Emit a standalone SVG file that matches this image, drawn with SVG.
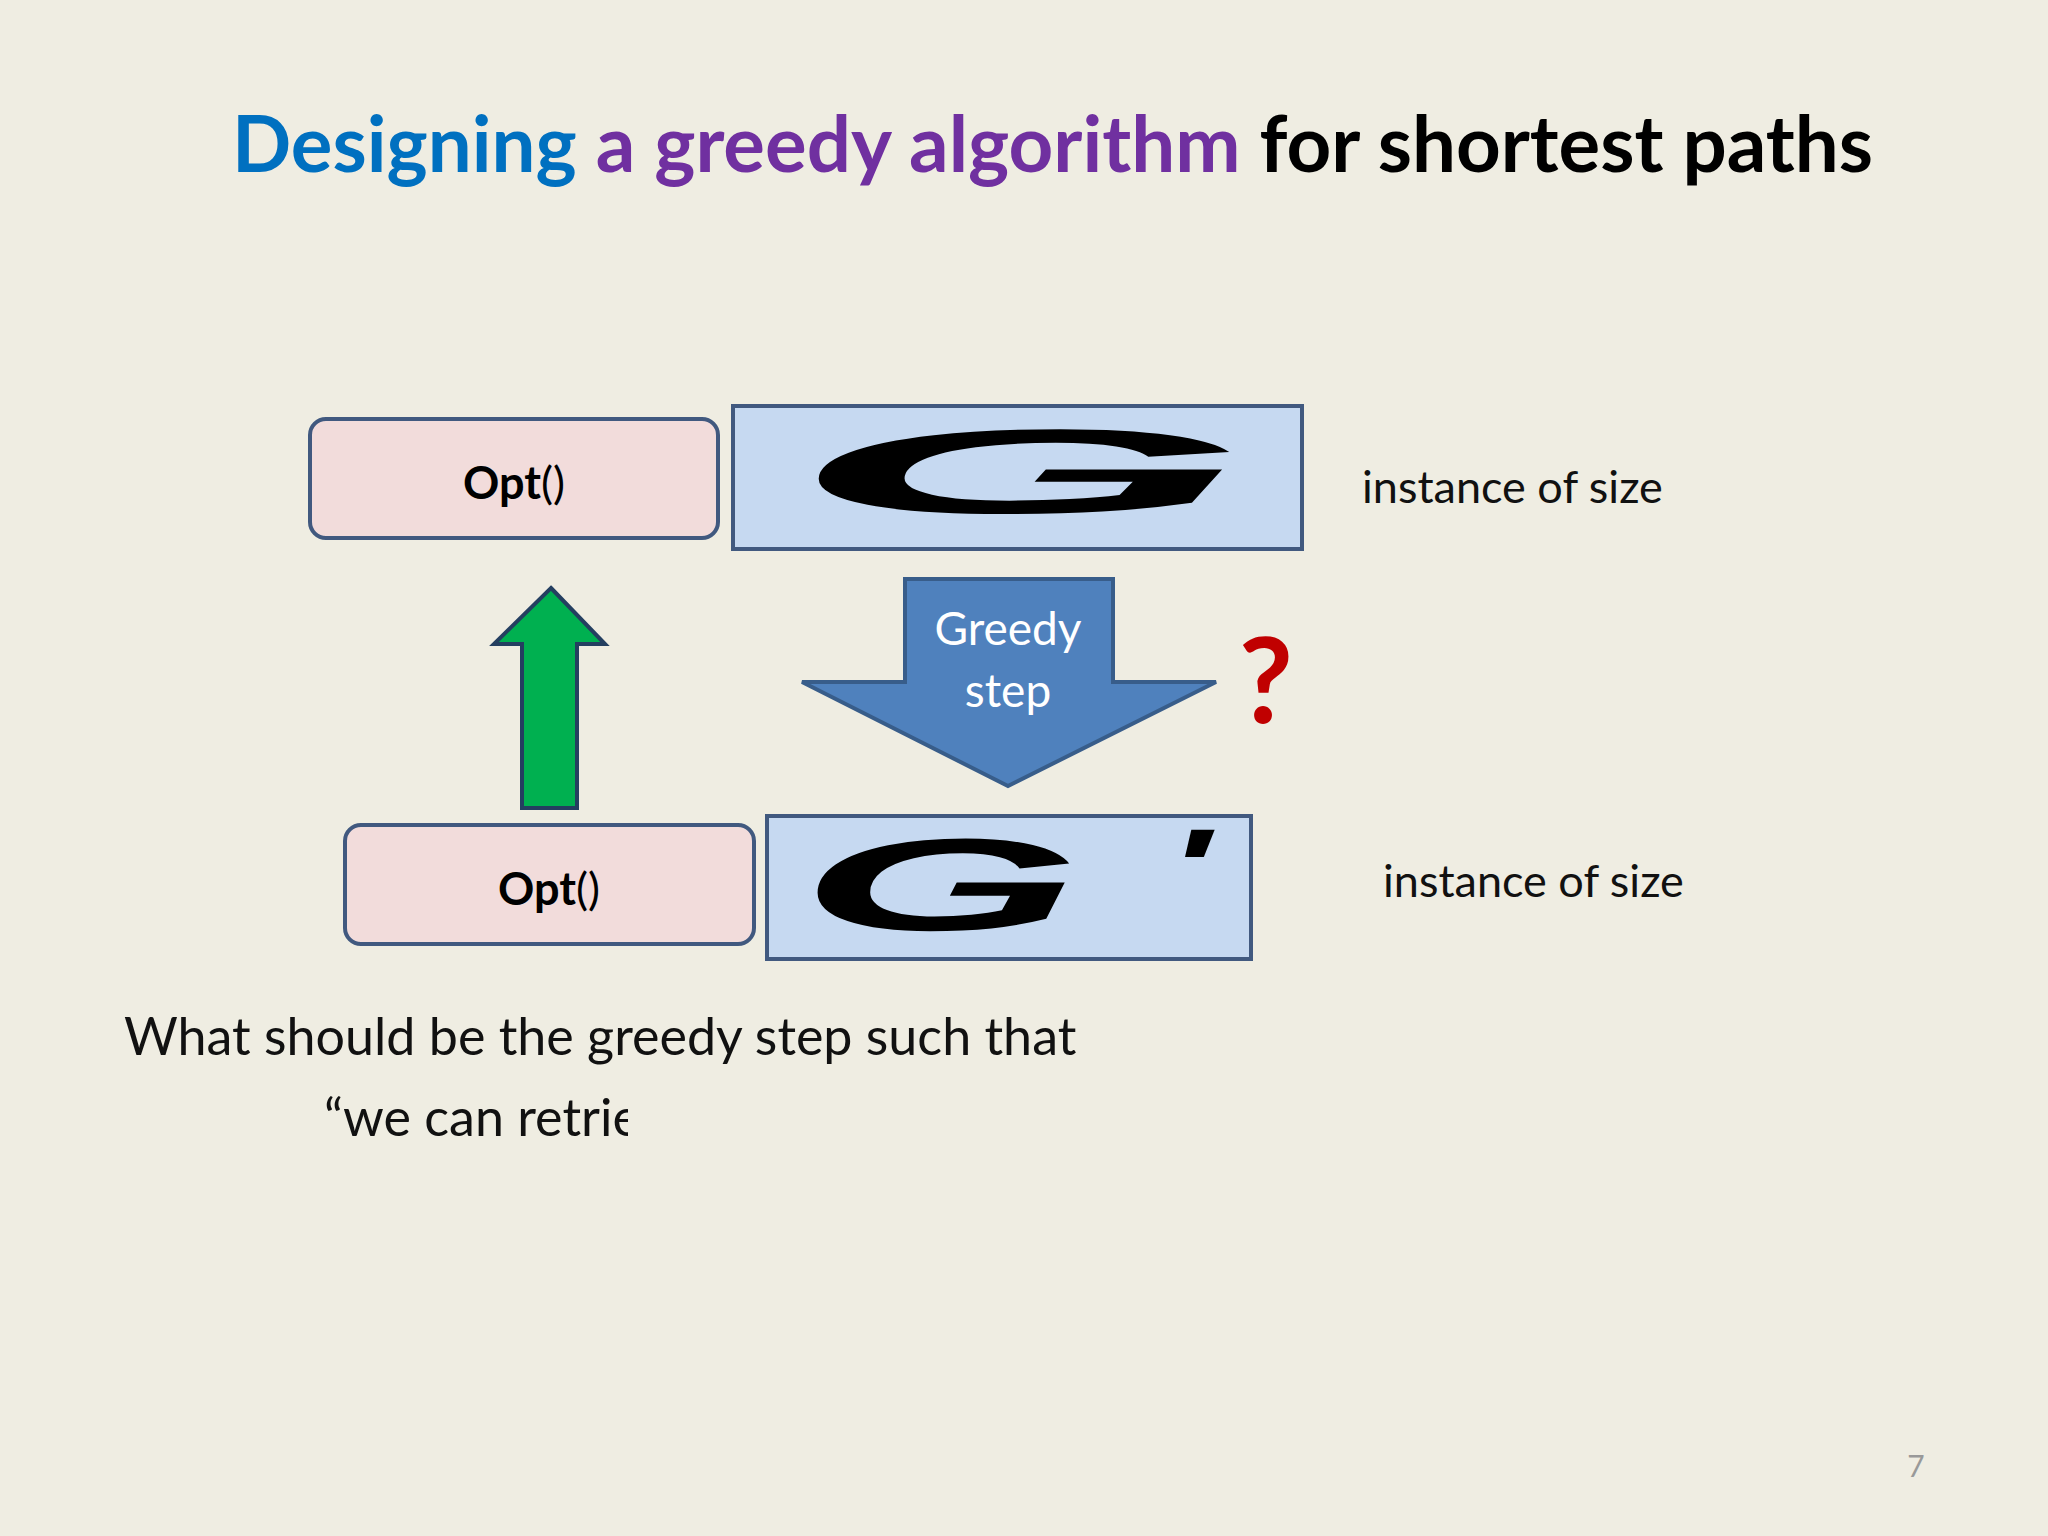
<svg xmlns="http://www.w3.org/2000/svg" width="2048" height="1536" viewBox="0 0 2048 1536">
<style>
.t{font-family:Lato,"Liberation Sans",sans-serif}
.opt{fill:#f2dcdb;stroke:#41597f;stroke-width:4}
.gbox{fill:#c6d9f1;stroke:#41597f;stroke-width:4}
.g{font-family:"Liberation Sans",sans-serif;font-weight:bold;font-style:italic;fill:#000}
.lbl{font-family:Lato,"Liberation Sans",sans-serif;font-size:45px;fill:#111}
</style>
<defs><clipPath id="c"><rect x="0" y="1090" width="628" height="70"/></clipPath></defs>
<rect width="2048" height="1536" fill="#efede2"/>
<text class="t" x="232" y="172" font-size="78" font-weight="bold"><tspan fill="#0070c0">Designing </tspan><tspan fill="#7030a0"> a greedy algorithm</tspan><tspan fill="#000"> for shortest paths</tspan></text>
<g id="opt-top"><rect class="opt" x="310" y="419" width="408" height="119" rx="16"/><text class="t" x="514" y="499" font-size="45" text-anchor="middle"><tspan font-weight="bold">Opt</tspan>()</text></g>
<g id="g-top"><rect class="gbox" x="733" y="406" width="569" height="143"/><text class="g" transform="translate(790,513) scale(4.9,1)" font-size="120">G</text></g>
<text class="lbl" x="1362" y="503">instance of size</text>
<g id="opt-bot"><rect class="opt" x="345" y="825" width="409" height="119" rx="16"/><text class="t" x="549" y="905" font-size="45" text-anchor="middle"><tspan font-weight="bold">Opt</tspan>()</text></g>
<g id="g-bot"><rect class="gbox" x="767" y="816" width="484" height="143"/><text class="g" transform="translate(800,930) scale(2.75,1)" font-size="131">G</text><text class="g" transform="translate(1168,905) scale(1.6,1)" font-size="110">'</text></g>
<text class="lbl" x="1383" y="897">instance of size</text>
<g id="connectors">
<polygon points="551,588 605,644 577,644 577,808 522,808 522,644 494,644" fill="#00b050" stroke="#243f60" stroke-width="4" stroke-linejoin="miter"/>
<g id="greedy"><polygon points="905,579 1113,579 1113,682 1216,682 1008,786 802,682 905,682" fill="#4f81bd" stroke="#385d8a" stroke-width="4"/>
<text class="t" x="1008" y="645" font-size="46" fill="#fff" text-anchor="middle">Greedy</text>
<text class="t" x="1008" y="707" font-size="46" fill="#fff" text-anchor="middle">step</text></g>
</g>
<text class="t" x="1266" y="723" font-size="118" font-weight="bold" fill="#c00000" text-anchor="middle">?</text>
<text class="t" x="124" y="1055" font-size="52" fill="#111">What should be the greedy step such that</text>
<text class="t" x="324" y="1136" font-size="52" fill="#111" clip-path="url(#c)">“we can retrieve</text>
<text class="t" x="1916" y="1477" font-size="30" fill="#999" text-anchor="middle">7</text>
</svg>
